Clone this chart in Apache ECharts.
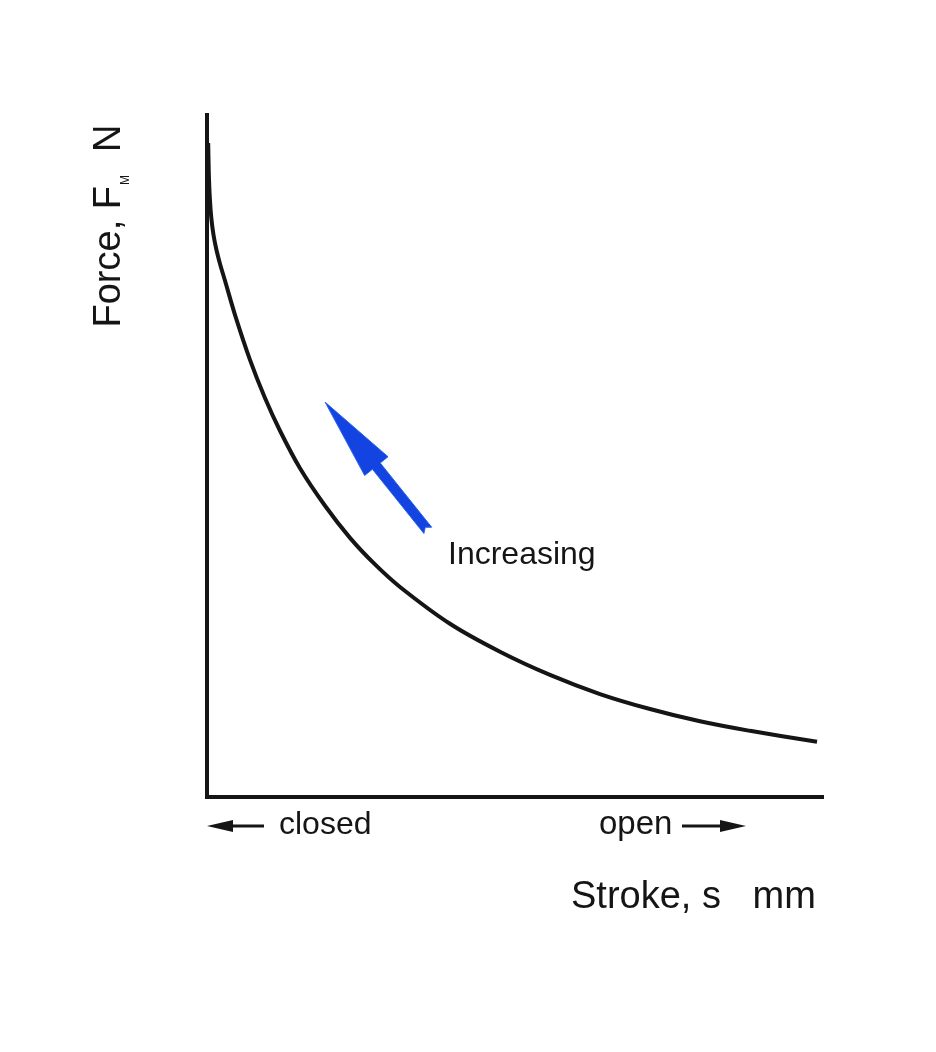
<!DOCTYPE html>
<html><head><meta charset="utf-8">
<script src="https://cdn.jsdelivr.net/npm/echarts@6/dist/echarts.min.js"></script>
<style>html,body{margin:0;padding:0;background:#fff}#c{width:936px;height:1052px}</style>
</head><body><div id="c"></div>
<script>
// Stroke (x, % of axis) and force (y, % of axis)
const strokeValues = [0.195, 0.29, 0.46, 0.70, 1.06, 1.54, 2.11, 2.93, 4.55, 6.99, 9.43, 11.87, 15.12, 19.19, 23.25, 27.32, 31.38, 39.51, 47.64, 55.77, 63.9, 72.03, 80.16, 88.29, 99.19];
const forceValues  = [95.9, 91.6, 87.8, 84.9, 82.4, 80.2, 78.2, 75.7, 70.7, 64.1, 58.5, 53.7, 48.2, 42.7, 38.0, 34.1, 30.8, 25.4, 21.3, 17.9, 15.1, 12.9, 11.1, 9.7, 8.1];
// "Increasing" arrow, in data coordinates
const arrowFrom = [35.9, 39.1];
const arrowTo = [19.2, 57.9];
// texts
const xTitle = 'Stroke, s   mm';
const yTitleMain = 'Force, F';
const yTitleSub = 'M';
const yTitleUnit = '  N';
const increasingLabel = 'Increasing';
const closedLabel = 'closed';
const openLabel = 'open';

const FONT = '"Liberation Sans", Arial, sans-serif';
const INK = '#151515';
const BLUE = '#1343e0';

const chart = echarts.init(document.getElementById('c'), null, {renderer: 'canvas'});
const axisCommon = {
  type: 'value', min: 0, max: 100,
  axisLine: {show: true, onZero: false, lineStyle: {color: INK, width: 4, cap: 'square'}},
  axisTick: {show: false}, axisLabel: {show: false}, splitLine: {show: false}
};
chart.setOption({
  animation: false,
  backgroundColor: '#fff',
  grid: {left: 207, top: 115, width: 615, height: 682},
  xAxis: axisCommon,
  yAxis: axisCommon,
  series: [{
    type: 'line',
    data: strokeValues.map((s, i) => [s, forceValues[i]]),
    smooth: 0.25,
    showSymbol: false,
    lineStyle: {color: INK, width: 4}
  }]
});

function buildGraphics() {
  const p1 = chart.convertToPixel({gridIndex: 0}, arrowFrom);
  const p2 = chart.convertToPixel({gridIndex: 0}, arrowTo);
  const dx = p2[0] - p1[0], dy = p2[1] - p1[1];
  const L = Math.hypot(dx, dy);
  const d = [dx / L, dy / L];
  const n = [-d[1], d[0]];
  const H = 82, W = 15, S = 5;
  const base = [p2[0] - d[0] * H, p2[1] - d[1] * H];
  const pt = (p, a, b) => [p[0] + n[0] * a + d[0] * b, p[1] + n[1] * a + d[1] * b];
  const arrowPts = [
    pt(p1, S, 0), pt(base, S, 0), pt(base, W, 0), p2,
    pt(base, -W, 0), pt(base, -S, 0), pt(p1, -S, 0), pt(p1, 0, 4)
  ];
  const txt = (x, y, text, size, extra) => Object.assign({
    type: 'text', x: x, y: y,
    style: {text: text, fontFamily: FONT, fontSize: size, fill: INK, align: 'left', verticalAlign: 'middle'}
  }, extra || {});
  chart.setOption({
    graphic: [
      {type: 'polygon', shape: {points: arrowPts}, style: {fill: BLUE, stroke: '#2a66e8', lineWidth: 1}},
      txt(448, 555, increasingLabel, 32),
      txt(279, 825, closedLabel, 32),
      txt(599, 825, openLabel, 33),
      txt(571, 898, xTitle, 38),
      // left arrow (closed)
      {type: 'line', shape: {x1: 228, y1: 826, x2: 264, y2: 826}, style: {stroke: INK, lineWidth: 3}},
      {type: 'polygon', shape: {points: [[207, 826], [233, 820], [233, 832]]}, style: {fill: INK}},
      // right arrow (open)
      {type: 'line', shape: {x1: 682, y1: 826, x2: 724, y2: 826}, style: {stroke: INK, lineWidth: 3}},
      {type: 'polygon', shape: {points: [[746, 826], [720, 820], [720, 832]]}, style: {fill: INK}},
      {
        type: 'text', x: 110, y: 226, rotation: Math.PI / 2,
        style: {
          text: '{a|' + yTitleMain + '}{s|' + yTitleSub + '}{a|' + yTitleUnit + '}',
          align: 'center', verticalAlign: 'middle', fill: INK,
          rich: {
            a: {fontFamily: FONT, fontSize: 38, fill: INK, lineHeight: 44},
            s: {fontFamily: FONT, fontSize: 12, fill: INK, lineHeight: 44, verticalAlign: 'bottom', padding: [18, 2, 0, 1]}
          }
        }
      }
    ]
  });
}
buildGraphics();
</script>
</body></html>
